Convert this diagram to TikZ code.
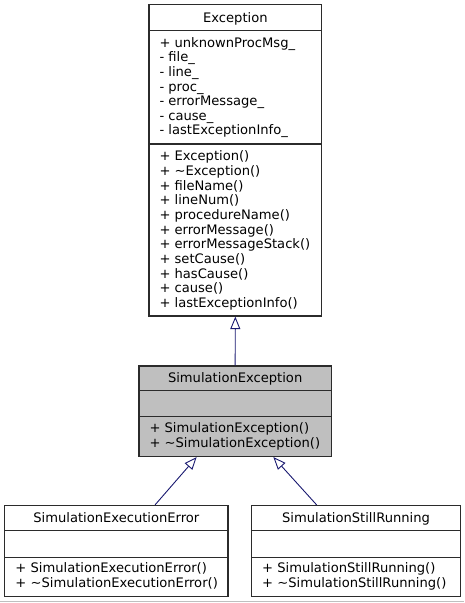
\documentclass[tikz,border=0pt]{standalone}
\usepackage{fontspec}
\setmainfont{DejaVu Sans}
\usetikzlibrary{arrows.meta}
\definecolor{navyline}{HTML}{191970}
\definecolor{boxgray}{HTML}{BFBFBF}
\definecolor{border}{HTML}{2B2B2B}
\tikzset{
  umlbox/.style={draw=border, line width=1.1pt, rectangle, inner sep=0pt},
  sepline/.style={draw=border, line width=1.1pt},
  txt/.style={font=\fontsize{13.1}{14.6}\selectfont, inner sep=0pt, anchor=base west},
  ttl/.style={font=\fontsize{13.1}{14.6}\selectfont, inner sep=0pt, anchor=base},
  inh/.style={draw=navyline, line width=0.9pt, -{Triangle[open, fill=white, length=12.5pt, width=10pt]}},
}
\begin{document}
\begin{tikzpicture}[x=1pt, y=-1pt]
\useasboundingbox (0,0) rectangle (464,603);
% Exception
\node[umlbox, fill=white, minimum width=172.7pt, minimum height=311.5pt] (exc) at (235.35,160.25) {};
\draw[sepline] (149,30.5) -- (321.7,30.5);
\draw[sepline] (149,144) -- (321.7,144);
\node[ttl] (exct) at (235.35,22.3) {Exception};
\foreach [count=\i] \t in {+ unknownProcMsg\_, - file\_, - line\_, - proc\_, - errorMessage\_, - cause\_, - lastExceptionInfo\_}
  \node[txt] (exca\i) at (159.3,{47.3+14.6*(\i-1)}) {\t};
\foreach [count=\i] \t in {+ Exception(), + \textasciitilde Exception(), + fileName(), + lineNum(), + procedureName(), + errorMessage(), + errorMessageStack(), + setCause(), + hasCause(), + cause(), + lastExceptionInfo()}
  \node[txt] (excm\i) at (159.3,{160.6+14.7*(\i-1)}) {\t};
% SimulationException
\node[umlbox, fill=boxgray, minimum width=192.3pt, minimum height=90.5pt] (sx) at (235.15,411.25) {};
\draw[sepline] (139,390.7) -- (331.3,390.7);
\draw[sepline] (139,416.7) -- (331.3,416.7);
\node[ttl] (sxt) at (235.15,382.3) {SimulationException};
\node[txt] (sxm1) at (149.3,432.8) {+ SimulationException()};
\node[txt] (sxm2) at (149.3,447.4) {+ \textasciitilde SimulationException()};
% SimulationExecutionError
\node[umlbox, fill=white, minimum width=223.3pt, minimum height=91.2pt] (see) at (116.35,551.1) {};
\draw[sepline] (4.7,530.7) -- (228,530.7);
\draw[sepline] (4.7,557.3) -- (228,557.3);
\node[ttl] (seet) at (116.35,522.2) {SimulationExecutionError};
\node[txt] (seem1) at (15.3,572.8) {+ SimulationExecutionError()};
\node[txt] (seem2) at (15.3,587.4) {+ \textasciitilde SimulationExecutionError()};
% SimulationStillRunning
\node[umlbox, fill=white, minimum width=208.6pt, minimum height=91.2pt] (ssr) at (356,551.1) {};
\draw[sepline] (251.7,530.7) -- (460.3,530.7);
\draw[sepline] (251.7,557.3) -- (460.3,557.3);
\node[ttl] (ssrt) at (356,522.2) {SimulationStillRunning};
\node[txt] (ssrm1) at (262,572.8) {+ SimulationStillRunning()};
\node[txt] (ssrm2) at (262,587.4) {+ \textasciitilde SimulationStillRunning()};
% inheritance arrows
\draw[inh] (sx.north) -- (exc.south);
\draw[inh] ([xshift=38.65pt]see.north) -- ([xshift=-38.5pt]sx.south);
\draw[inh] ([xshift=-39.3pt]ssr.north) -- ([xshift=38.2pt]sx.south);
% bottom rule
\draw[gray!50, line width=1.5pt] (0,601.6) -- (464,601.6);
\end{tikzpicture}
\end{document}
